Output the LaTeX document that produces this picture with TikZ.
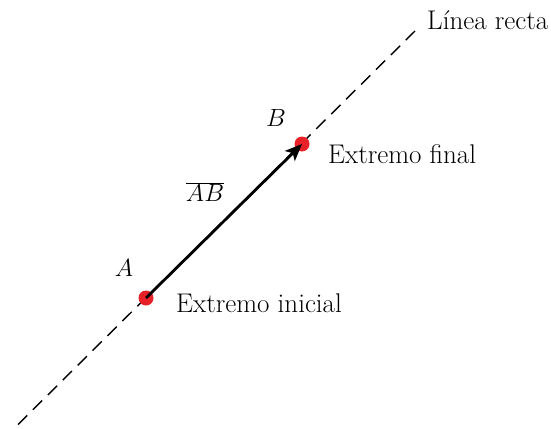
\documentclass[tikz,border=0pt]{standalone}
\usetikzlibrary{arrows.meta}
\definecolor{dotred}{RGB}{232,32,40}
\begin{document}
\begin{tikzpicture}[x=1pt,y=-1pt,
  lbl/.style={font=\fontsize{27}{31}\selectfont, inner sep=0pt},
  dot/.style={circle, fill=dotred, draw=none, minimum size=15pt, inner sep=0pt},
  dashline/.style={line width=1.4pt, dash pattern=on 13pt off 8pt},
  vec/.style={line width=2.8pt, -{Stealth[length=17pt,width=14pt,inset=4pt]}}]
\useasboundingbox (0,0) rectangle (551,428);
\coordinate (L0) at (18,424.5);
\coordinate (L1) at (415,31);
\draw[dashline] (L0) -- (L1);
\node[dot] (A) at (146,298) {};
\node[dot] (B) at (302,144) {};
\draw[vec] (A.center) -- (B.center);
\node[lbl, anchor=base west] (t1) at (427,30) {Línea recta};
\node[lbl, anchor=base west] (t2) at (328,163) {Extremo final};
\node[lbl, anchor=base west] (t3) at (176,312) {Extremo inicial};
\node[lbl] (lA) at (124,268) {$A$};
\node[lbl] (lB) at (276,118) {$B$};
\node[lbl] (lAB) at (205,192) {$\overline{AB}$};
\end{tikzpicture}
\end{document}
